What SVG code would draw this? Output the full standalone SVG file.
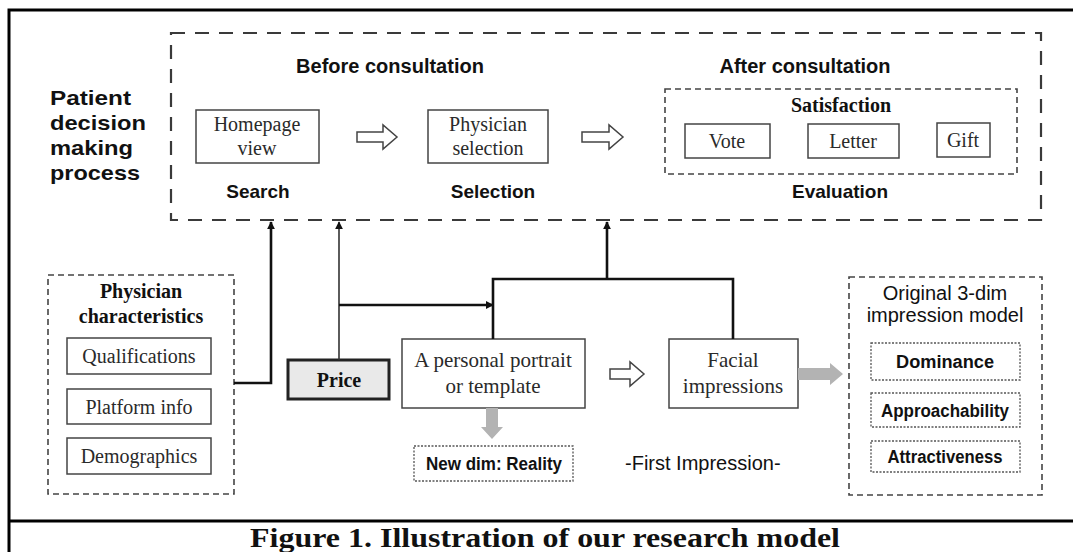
<svg xmlns="http://www.w3.org/2000/svg" width="1073" height="552" viewBox="0 0 1073 552">
<defs>
<style>
.frame{fill:none;stroke:#000;stroke-width:3}
.bigdash{fill:none;stroke:#3a3a3a;stroke-width:2.2;stroke-dasharray:14 10}
.smalldash{fill:none;stroke:#444;stroke-width:1.6;stroke-dasharray:6 4}
.dotbox{fill:#fff;stroke:#555;stroke-width:1.3;stroke-dasharray:2 1.5}
.box{fill:#fff;stroke:#444;stroke-width:1.5}
.hollow{fill:#fff;stroke:#444;stroke-width:1.5}
.gray{fill:#b3b3b3}
.conn{fill:none;stroke:#111;stroke-width:2.6}
.conn2{fill:none;stroke:#333;stroke-width:1.6}
.hsans{font-family:"Liberation Sans",Arial,sans-serif;font-weight:bold;fill:#111}
.sans{font-family:"Liberation Sans",Arial,sans-serif;fill:#111}
.serif{font-family:"Liberation Serif","Times New Roman",serif;fill:#2a2a2a;font-size:20px}
.bserif{font-family:"Liberation Serif","Times New Roman",serif;font-weight:bold;fill:#111}
.cond{font-family:"Liberation Sans Narrow","Liberation Sans",Arial,sans-serif;font-weight:bold;fill:#111;font-size:18px}
</style>
<marker id="ah" viewBox="0 0 10 10" refX="9" refY="5" markerWidth="8" markerHeight="8" markerUnits="userSpaceOnUse" orient="auto">
<path d="M0,0 L10,5 L0,10 z" fill="#111"/>
</marker>
</defs>
<rect width="1073" height="552" fill="#fff"/>
<rect class="frame" x="9" y="10" width="1080" height="560"/>
<line x1="9" y1="521" x2="1073" y2="521" stroke="#000" stroke-width="3"/>

<g id="patient-label">
<text class="hsans" font-size="21" x="50" y="105" textLength="81" lengthAdjust="spacingAndGlyphs">Patient</text>
<text class="hsans" font-size="21" x="50" y="130" textLength="96" lengthAdjust="spacingAndGlyphs">decision</text>
<text class="hsans" font-size="21" x="50" y="155" textLength="83" lengthAdjust="spacingAndGlyphs">making</text>
<text class="hsans" font-size="21" x="50" y="180" textLength="90" lengthAdjust="spacingAndGlyphs">process</text>
</g>

<g id="process-box">
<rect class="bigdash" x="171" y="33" width="870" height="187"/>
<text class="hsans" font-size="20" x="390" y="73" text-anchor="middle">Before consultation</text>
<text class="hsans" font-size="20" x="805" y="73" text-anchor="middle">After consultation</text>
</g>

<g id="homepage">
<rect class="box" x="196" y="110" width="123" height="53"/>
<text class="serif" x="257" y="131" text-anchor="middle">Homepage</text>
<text class="serif" x="257" y="155" text-anchor="middle">view</text>
<text class="hsans" font-size="19" x="258" y="198" text-anchor="middle">Search</text>
</g>

<g id="physician-selection">
<rect class="box" x="428" y="110" width="120" height="53"/>
<text class="serif" x="488" y="131" text-anchor="middle">Physician</text>
<text class="serif" x="488" y="155" text-anchor="middle">selection</text>
<text class="hsans" font-size="19" x="493" y="198" text-anchor="middle">Selection</text>
</g>

<g id="satisfaction">
<rect class="smalldash" x="665" y="89" width="352" height="85"/>
<text class="bserif" font-size="20" x="841" y="112" text-anchor="middle">Satisfaction</text>
<rect class="box" x="685" y="124" width="85" height="34"/>
<text class="serif" x="727" y="148" text-anchor="middle">Vote</text>
<rect class="box" x="808" y="124" width="91" height="34"/>
<text class="serif" x="853" y="148" text-anchor="middle">Letter</text>
<rect class="box" x="937" y="123" width="53" height="34"/>
<text class="serif" x="963" y="147" text-anchor="middle">Gift</text>
<text class="hsans" font-size="19" x="840" y="198" text-anchor="middle">Evaluation</text>
</g>

<g id="physician-characteristics">
<rect class="smalldash" x="48" y="275" width="186" height="219"/>
<text class="bserif" font-size="20" x="141" y="298" text-anchor="middle">Physician</text>
<text class="bserif" font-size="20" x="141" y="323" text-anchor="middle">characteristics</text>
<rect class="box" x="67" y="338" width="144" height="36"/>
<text class="serif" x="139" y="363" text-anchor="middle">Qualifications</text>
<rect class="box" x="67" y="389" width="144" height="35"/>
<text class="serif" x="139" y="414" text-anchor="middle">Platform info</text>
<rect class="box" x="67" y="438" width="144" height="36"/>
<text class="serif" x="139" y="463" text-anchor="middle">Demographics</text>
</g>

<g id="price">
<rect x="288" y="360" width="101" height="39" fill="#e9e9e9" stroke="#222" stroke-width="3"/>
<text class="bserif" font-size="20" x="339" y="387" text-anchor="middle">Price</text>
</g>

<g id="portrait">
<rect class="box" x="402" y="339" width="183" height="69"/>
<text class="serif" x="493" y="367" text-anchor="middle" style="font-size:21px">A personal portrait</text>
<text class="serif" x="493" y="393" text-anchor="middle" style="font-size:21px">or template</text>
</g>

<g id="reality">
<rect class="dotbox" x="414" y="446" width="159" height="35"/>
<text class="cond" x="494" y="470" text-anchor="middle" textLength="136" lengthAdjust="spacingAndGlyphs">New dim: Reality</text>
</g>

<g id="facial">
<rect class="box" x="669" y="339" width="129" height="69"/>
<text class="serif" x="733" y="367" text-anchor="middle" style="font-size:21px">Facial</text>
<text class="serif" x="733" y="393" text-anchor="middle" style="font-size:21px">impressions</text>
</g>

<g id="first-impression">
<text class="sans" font-size="20" x="625" y="470">-First Impression-</text>
</g>

<g id="original-model">
<rect class="smalldash" x="849" y="277" width="193" height="218"/>
<text class="sans" font-size="20" x="945" y="300" text-anchor="middle">Original 3-dim</text>
<text class="sans" font-size="20" x="945" y="322" text-anchor="middle">impression model</text>
<rect class="dotbox" x="871" y="343" width="149" height="37"/>
<text class="cond" x="945" y="368" text-anchor="middle" textLength="98" lengthAdjust="spacingAndGlyphs">Dominance</text>
<rect class="dotbox" x="871" y="393" width="149" height="34"/>
<text class="cond" x="945" y="417" text-anchor="middle" textLength="128" lengthAdjust="spacingAndGlyphs">Approachability</text>
<rect class="dotbox" x="871" y="441" width="149" height="31"/>
<text class="cond" x="945" y="463" text-anchor="middle" textLength="115" lengthAdjust="spacingAndGlyphs">Attractiveness</text>
</g>

<g id="connectors">
<polygon class="hollow" points="357,132 383,132 383,125 397,137 383,149 383,142 357,142"/>
<polygon class="hollow" points="582,132 609,132 609,125 623,137 609,149 609,142 582,142"/>
<polygon class="hollow" points="610,369 630,369 630,362 644,374 630,386 630,379 610,379"/>
<polygon class="gray" points="486,408 498,408 498,427 503,427 492,439 481,427 486,427"/>
<polygon class="gray" points="798,368 830,368 830,363 843,374 830,385 830,380 798,380"/>
<path class="conn" d="M234,383 H271 V222" marker-end="url(#ah)"/>
<path class="conn2" d="M339,360 V222" marker-end="url(#ah)"/>
<path class="conn" d="M339,305 H493" marker-end="url(#ah)"/>
<path class="conn" d="M493,339 V279 H733 V339"/>
<path class="conn" d="M607,279 V222" marker-end="url(#ah)"/>
</g>

<g id="caption">
<text class="bserif" font-size="28" x="250" y="547" textLength="590" lengthAdjust="spacingAndGlyphs">Figure 1. Illustration of our research model</text>
</g>
</svg>
